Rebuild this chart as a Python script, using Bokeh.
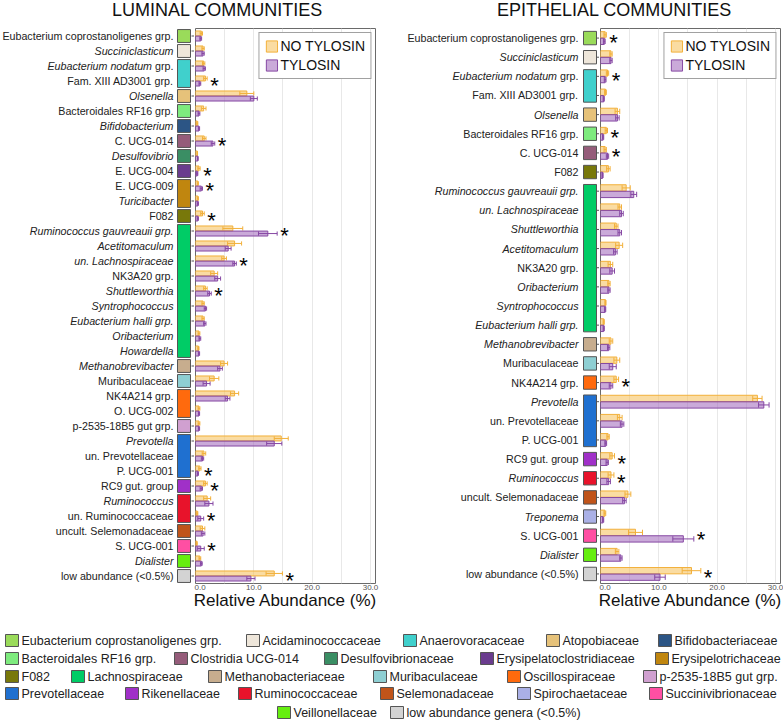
import pandas as pd
from bokeh.plotting import figure
from bokeh.layouts import row, column
from bokeh.models import ColumnDataSource, FactorRange, Range1d, FixedTicker, NumeralTickFormatter, Legend, LegendItem
from bokeh.transform import dodge
from bokeh.core.properties import value
from bokeh.embed import file_html
from bokeh.resources import INLINE

FONT = "Liberation Sans"

# ---------------- families (legend order) ----------------
families = ["Eubacterium coprostanoligenes grp.", "Acidaminococcaceae", "Anaerovoracaceae", "Atopobiaceae",
            "Bifidobacteriaceae", "Bacteroidales RF16 grp.", "Clostridia UCG-014", "Desulfovibrionaceae",
            "Erysipelatoclostridiaceae", "Erysipelotrichaceae", "F082", "Lachnospiraceae", "Methanobacteriaceae",
            "Muribaculaceae", "Oscillospiraceae", "p-2535-18B5 gut grp.", "Prevotellaceae", "Rikenellaceae",
            "Ruminococcaceae", "Selemonadaceae", "Spirochaetaceae", "Succinivibrionaceae", "Veillonellaceae",
            "low abundance genera (<0.5%)"]
family_colors = ["#9ADB5A", "#EEE6DA", "#40D0CC", "#E6C27A", "#2C5585", "#7EEB7E", "#955C7A", "#3A8E64",
                 "#6A3C8E", "#C0860F", "#78780A", "#00CC66", "#C7AD8E", "#8ECFD3", "#FF6A0D", "#D0A0D0",
                 "#1F70D0", "#A030C8", "#E8132B", "#C0541A", "#AAB0E6", "#FF4FA3", "#66EE10", "#D3D3D3"]
FAM_COLOR = dict(zip(families, family_colors))

# ---------------- luminal ----------------
lum_genera = ["Eubacterium coprostanoligenes grp.", "Succiniclasticum", "Eubacterium nodatum grp.",
              "Fam. XIII AD3001 grp.", "Olsenella", "Bacteroidales RF16 grp.", "Bifidobacterium", "C. UCG-014",
              "Desulfovibrio", "E. UCG-004", "E. UCG-009", "Turicibacter", "F082", "Ruminococcus gauvreauii grp.",
              "Acetitomaculum", "un. Lachnospiraceae", "NK3A20 grp.", "Shuttleworthia", "Syntrophococcus",
              "Eubacterium halli grp.", "Oribacterium", "Howardella", "Methanobrevibacter", "Muribaculaceae",
              "NK4A214 grp.", "O. UCG-002", "p-2535-18B5 gut grp.", "Prevotella", "un. Prevotellaceae",
              "P. UCG-001", "RC9 gut. group", "Ruminococcus", "un. Ruminococcaceae", "uncult. Selemonadaceae",
              "S. UCG-001", "Dialister", "low abundance (<0.5%)"]
lum_style = ["n", "i", "m", "n", "i", "n", "i", "n", "i", "n", "n", "i", "n", "i", "i", "i", "n", "i", "i", "i",
             "i", "i", "i", "n", "n", "n", "n", "i", "n", "n", "n", "i", "n", "n", "n", "i", "n"]
lum_family = ["Eubacterium coprostanoligenes grp.", "Acidaminococcaceae", "Anaerovoracaceae", "Anaerovoracaceae",
              "Atopobiaceae", "Bacteroidales RF16 grp.", "Bifidobacteriaceae", "Clostridia UCG-014",
              "Desulfovibrionaceae", "Erysipelatoclostridiaceae", "Erysipelotrichaceae", "Erysipelotrichaceae",
              "F082"] + ["Lachnospiraceae"] * 9 + ["Methanobacteriaceae", "Muribaculaceae", "Oscillospiraceae",
              "Oscillospiraceae", "p-2535-18B5 gut grp.", "Prevotellaceae", "Prevotellaceae", "Prevotellaceae",
              "Rikenellaceae", "Ruminococcaceae", "Ruminococcaceae", "Selemonadaceae", "Succinivibrionaceae",
              "Veillonellaceae", "low abundance genera (<0.5%)"]
lum_no = [1.0, 1.3, 1.4, 1.7, 8.8, 1.4, 0.3, 1.5, 0.3, 0.6, 0.4, 0.4, 1.2, 6.4, 6.7, 4.9, 3.2, 1.7, 1.3, 1.3,
          0.6, 0.5, 4.9, 3.2, 6.7, 0.6, 0.6, 14.7, 1.45, 0.75, 1.7, 2.0, 0.3, 1.2, 0.2, 0.75, 13.5]
lum_no_se = [0.2, 0.2, 0.2, 0.3, 1.2, 0.4, 0.1, 0.3, 0.05, 0.2, 0.1, 0.1, 0.3, 1.7, 1.2, 0.4, 0.6, 0.3, 0.2, 0.2,
             0.15, 0.1, 0.6, 0.8, 0.7, 0.15, 0.15, 1.2, 0.3, 0.2, 0.3, 0.6, 0.1, 0.4, 0.1, 0.15, 1.4]
lum_ty = [0.9, 1.3, 1.5, 0.75, 10.0, 0.6, 0.6, 3.0, 0.4, 0.3, 1.0, 0.4, 0.4, 12.4, 5.6, 6.7, 3.8, 2.4, 1.7, 1.6,
          0.75, 0.6, 4.2, 1.9, 5.5, 0.6, 0.6, 13.5, 1.2, 0.4, 1.0, 2.3, 0.9, 1.3, 0.9, 1.0, 9.5]
lum_ty_se = [0.15, 0.2, 0.2, 0.15, 0.6, 0.15, 0.1, 0.3, 0.05, 0.1, 0.2, 0.1, 0.1, 1.6, 0.5, 0.3, 0.5, 0.3, 0.2,
             0.2, 0.15, 0.1, 0.4, 0.6, 0.4, 0.1, 0.1, 1.3, 0.2, 0.1, 0.2, 0.7, 0.5, 0.3, 0.6, 0.15, 0.7]
lum_sig = [0, 0, 0, 1, 0, 0, 0, 1, 0, 1, 1, 0, 1, 1, 0, 1, 0, 1, 0, 0, 0, 0, 0, 0, 0, 0, 0, 0, 0, 1, 1, 0, 1, 0,
           1, 0, 1]

# ---------------- epithelial ----------------
epi_genera = ["Eubacterium coprostanoligenes grp.", "Succiniclasticum", "Eubacterium nodatum grp.",
              "Fam. XIII AD3001 grp.", "Olsenella", "Bacteroidales RF16 grp.", "C. UCG-014", "F082",
              "Ruminococcus gauvreauii grp.", "un. Lachnospiraceae", "Shuttleworthia", "Acetitomaculum",
              "NK3A20 grp.", "Oribacterium", "Syntrophococcus", "Eubacterium halli grp.", "Methanobrevibacter",
              "Muribaculaceae", "NK4A214 grp.", "Prevotella", "un. Prevotellaceae", "P. UCG-001", "RC9 gut. group",
              "Ruminococcus", "uncult. Selemonadaceae", "Treponema", "S. UCG-001", "Dialister",
              "low abundance (<0.5%)"]
epi_style = ["n", "i", "m", "n", "i", "n", "n", "n", "i", "i", "i", "i", "n", "i", "i", "i", "i", "n", "n", "i",
             "n", "n", "n", "i", "n", "i", "n", "i", "n"]
epi_family = ["Eubacterium coprostanoligenes grp.", "Acidaminococcaceae", "Anaerovoracaceae", "Anaerovoracaceae",
              "Atopobiaceae", "Bacteroidales RF16 grp.", "Clostridia UCG-014", "F082"] + ["Lachnospiraceae"] * 8 + \
             ["Methanobacteriaceae", "Muribaculaceae", "Oscillospiraceae", "Prevotellaceae", "Prevotellaceae",
              "Prevotellaceae", "Rikenellaceae", "Ruminococcaceae", "Selemonadaceae", "Spirochaetaceae",
              "Succinivibrionaceae", "Veillonellaceae", "low abundance genera (<0.5%)"]
epi_no = [0.8, 1.8, 1.2, 0.85, 2.9, 1.0, 0.8, 1.35, 4.4, 3.3, 2.7, 3.2, 1.7, 1.45, 0.85, 0.55, 1.8, 2.8, 2.7,
          26.9, 3.3, 1.3, 2.0, 1.8, 4.7, 0.75, 6.0, 2.85, 15.6]
epi_no_se = [0.2, 0.2, 0.2, 0.15, 0.4, 0.2, 0.2, 0.3, 0.7, 0.3, 0.3, 0.6, 0.4, 0.2, 0.1, 0.1, 0.3, 0.5, 0.4, 0.8,
             0.4, 0.2, 0.4, 0.5, 0.5, 0.15, 1.2, 0.3, 1.6]
epi_ty = [0.65, 1.8, 0.8, 0.55, 2.9, 0.45, 1.2, 0.35, 5.7, 3.6, 3.3, 2.55, 2.0, 1.45, 0.8, 0.55, 1.4, 2.1, 1.8,
          28.0, 3.7, 0.9, 1.15, 1.4, 4.1, 0.45, 14.2, 3.5, 10.2]
epi_ty_se = [0.15, 0.2, 0.15, 0.1, 0.3, 0.1, 0.2, 0.1, 0.5, 0.3, 0.3, 0.3, 0.4, 0.2, 0.1, 0.1, 0.2, 0.6, 0.3, 0.9,
             0.3, 0.15, 0.2, 0.3, 0.3, 0.1, 1.8, 0.2, 0.9]
epi_sig = [1, 0, 1, 0, 0, 1, 1, 0, 0, 0, 0, 0, 0, 0, 0, 0, 0, 0, 1, 0, 0, 0, 1, 1, 0, 0, 1, 0, 1]

titles = ["LUMINAL COMMUNITIES", "EPITHELIAL COMMUNITIES"]
series_names = ["NO TYLOSIN", "TYLOSIN"]
x_ticks = [0, 10, 20, 30]
grid_ticks = [0, 5, 10, 15, 20, 25, 30]

NO_FILL, NO_LINE = "#F6C25E", "#F2B03A"
TY_FILL, TY_LINE = "#A46CBE", "#8648A3"

FRAME_H = 555
BOTTOM = 40
H = FRAME_H + BOTTOM
HEAD_H = 28
LABEL_FS = "10.7px"


def label_fig(genera, style, family, yr, width, text_right, sw_left, sw_right, sw_pad):
    f = figure(width=width, height=H, x_range=Range1d(0, width), y_range=yr,
               x_axis_location=None, y_axis_location=None, toolbar_location=None, output_backend="svg",
               min_border_left=0, min_border_right=0, min_border_top=0, min_border_bottom=BOTTOM,
               outline_line_color=None)
    f.grid.visible = False
    rom = {"y": [], "t": []}
    ita = {"y": [], "t": [], "off": []}
    for g, s in zip(genera, style):
        if s == "n":
            rom["y"].append(g); rom["t"].append(g)
        elif s == "i":
            ita["y"].append(g); ita["t"].append(g); ita["off"].append(0)
        else:
            head, tail = g.rsplit(" ", 1)
            rom["y"].append(g); rom["t"].append(tail)
            ita["y"].append(g); ita["t"].append(head); ita["off"].append(-21.5)
    f.text(x=text_right, y="y", text="t", source=ColumnDataSource(rom), text_align="right",
           text_baseline="middle", text_font=value(FONT), text_font_size=LABEL_FS, text_color="#222")
    f.text(x=text_right, y="y", text="t", x_offset="off", source=ColumnDataSource(ita), text_align="right",
           text_baseline="middle", text_font=value(FONT), text_font_size=LABEL_FS, text_font_style="italic",
           text_color="#222")
    # family swatches: consecutive runs
    tops, bots, cols = [], [], []
    i = 0
    while i < len(genera):
        j = i
        while j + 1 < len(genera) and family[j + 1] == family[i]:
            j += 1
        tops.append(genera[i]); bots.append(genera[j]); cols.append(FAM_COLOR[family[i]])
        i = j + 1
    src = ColumnDataSource(dict(top=tops, bot=bots, color=cols))
    f.quad(left=sw_left, right=sw_right, top=dodge("top", sw_pad, range=yr), bottom=dodge("bot", -sw_pad, range=yr),
           source=src, fill_color="color", line_color="#555", line_width=1)
    f.segment(x0=width - 3, x1=width, y0=genera, y1=genera, line_color="#555", line_width=1)
    return f


def bar_fig(genera, no, no_se, ty, ty_se, sig, yr, right_border):
    f = figure(width=1 + 180 + right_border, height=H, x_range=Range1d(0, 30.86), y_range=yr,
               y_axis_location=None, toolbar_location=None, output_backend="svg",
               min_border_left=1, min_border_right=right_border, min_border_top=0, min_border_bottom=BOTTOM,
               outline_line_color="#6A6A6A", outline_line_width=1)
    f.ygrid.visible = False
    f.xgrid.ticker = FixedTicker(ticks=grid_ticks)
    f.xgrid.grid_line_color = "#E8E8E8"
    f.xaxis.ticker = FixedTicker(ticks=x_ticks)
    f.xaxis.formatter = NumeralTickFormatter(format="0.0")
    f.xaxis.axis_line_color = None
    f.xaxis.major_tick_line_color = None
    f.xaxis.minor_tick_line_color = None
    f.xaxis.major_tick_out = 0
    f.xaxis.major_tick_in = 0
    f.xaxis.major_label_text_font = FONT
    f.xaxis.major_label_text_font_size = "8px"
    f.xaxis.major_label_text_color = "#555"
    f.xaxis.major_label_standoff = 1
    f.xaxis.axis_label = "Relative Abundance (%)"
    f.xaxis.axis_label_text_font = FONT
    f.xaxis.axis_label_text_font_size = "17px"
    f.xaxis.axis_label_text_font_style = "normal"
    f.xaxis.axis_label_text_color = "#111"
    f.xaxis.axis_label_standoff = -2

    df = pd.DataFrame(dict(g=genera, no=no, no_se=no_se, ty=ty, ty_se=ty_se, sig=sig))
    df["no_lo"] = (df.no - df.no_se).clip(lower=0)
    df["no_hi"] = df.no + df.no_se
    df["ty_lo"] = (df.ty - df.ty_se).clip(lower=0)
    df["ty_hi"] = df.ty + df.ty_se
    src = ColumnDataSource(df)
    off, hh, cap = 0.17, 0.33, 0.14
    bars = []
    for key, fc, lc, d in [("no", NO_FILL, NO_LINE, off), ("ty", TY_FILL, TY_LINE, -off)]:
        yy = dodge("g", d, range=yr)
        bars.append(f.hbar(y=yy, left=0, right=key, height=hh, source=src, fill_color=fc, fill_alpha=0.58,
                           line_color=lc, line_width=1))
        f.segment(x0=key + "_lo", x1=key + "_hi", y0=yy, y1=yy, source=src, line_color=lc, line_width=1)
        for end in ("_lo", "_hi"):
            f.segment(x0=key + end, x1=key + end, y0=dodge("g", d + cap, range=yr),
                      y1=dodge("g", d - cap, range=yr), source=src, line_color=lc, line_width=1)
    st = df[df.sig == 1]
    star_src = ColumnDataSource(dict(x=st[["no_hi", "ty_hi"]].max(axis=1).tolist(), y=st.g.tolist(),
                                     t=["*"] * len(st)))
    f.text(x="x", y="y", text="t", source=star_src, x_offset=3, y_offset=4, text_align="left",
           text_baseline="middle", text_font=value(FONT), text_font_size="22px", text_color="#000")
    leg = Legend(items=[LegendItem(label=series_names[0], renderers=[bars[0]]),
                        LegendItem(label=series_names[1], renderers=[bars[1]])],
                 location="top_right", margin=4, padding=5, spacing=3, label_standoff=2,
                 glyph_width=14, glyph_height=14, label_height=14, label_text_font=FONT,
                 label_text_font_size="14px", label_text_color="#111", border_line_color="#444",
                 border_line_width=1, background_fill_alpha=1)
    f.add_layout(leg)
    return f


yr_l = FactorRange(factors=list(reversed(lum_genera)))
yr_r = FactorRange(factors=list(reversed(epi_genera)))

lab_l = label_fig(lum_genera, lum_style, lum_family, yr_l, 194, 173, 177, 190, 0.43)
bar_l = bar_fig(lum_genera, lum_no, lum_no_se, lum_ty, lum_ty_se, lum_sig, yr_l, 10)
lab_r = label_fig(epi_genera, epi_style, epi_family, yr_r, 214, 193, 198, 211, 0.35)
bar_r = bar_fig(epi_genera, epi_no, epi_no_se, epi_ty, epi_ty_se, epi_sig, yr_r, 3)

# header with the two panel titles
W = 783
head = figure(width=W, height=HEAD_H, x_range=Range1d(0, W), y_range=Range1d(HEAD_H, 0), x_axis_location=None,
              y_axis_location=None, toolbar_location=None, output_backend="svg", min_border=0,
              outline_line_color=None)
head.grid.visible = False
head.text(x=[217, 614], y=[9, 9], text=titles, text_align="center", text_baseline="middle",
          text_font=value(FONT), text_font_size="18px", text_color="#111")

# family legend
leg_x = [5, 246, 403, 546, 658, 5, 174, 324, 480, 655, 5, 71, 208, 373, 507, 643, 5, 125, 238, 380, 517, 649,
         277, 390]
leg_row = [0] * 5 + [1] * 5 + [2] * 6 + [3] * 6 + [4] * 2
row_y = [17, 35, 53, 70, 89]
LH = 98
lfig = figure(width=W, height=LH, x_range=Range1d(0, W), y_range=Range1d(LH, 0), x_axis_location=None,
              y_axis_location=None, toolbar_location=None, output_backend="svg", min_border=0,
              outline_line_color=None)
lfig.grid.visible = False
ys = [row_y[r] for r in leg_row]
lsrc = ColumnDataSource(dict(l=leg_x, r=[x + 13 for x in leg_x], t=[y - 6 for y in ys], b=[y + 6 for y in ys],
                             tx=[x + 16 for x in leg_x], y=ys, name=families, color=family_colors))
lfig.quad(left="l", right="r", top="t", bottom="b", source=lsrc, fill_color="color", line_color="#555")
lfig.text(x="tx", y="y", text="name", source=lsrc, text_align="left", text_baseline="middle",
          text_font=value(FONT), text_font_size="12.5px", text_color="#222")

layout = column(head, row(lab_l, bar_l, lab_r, bar_r, spacing=0), lfig, spacing=0)
open("out.html", "w").write(file_html(layout, INLINE))
